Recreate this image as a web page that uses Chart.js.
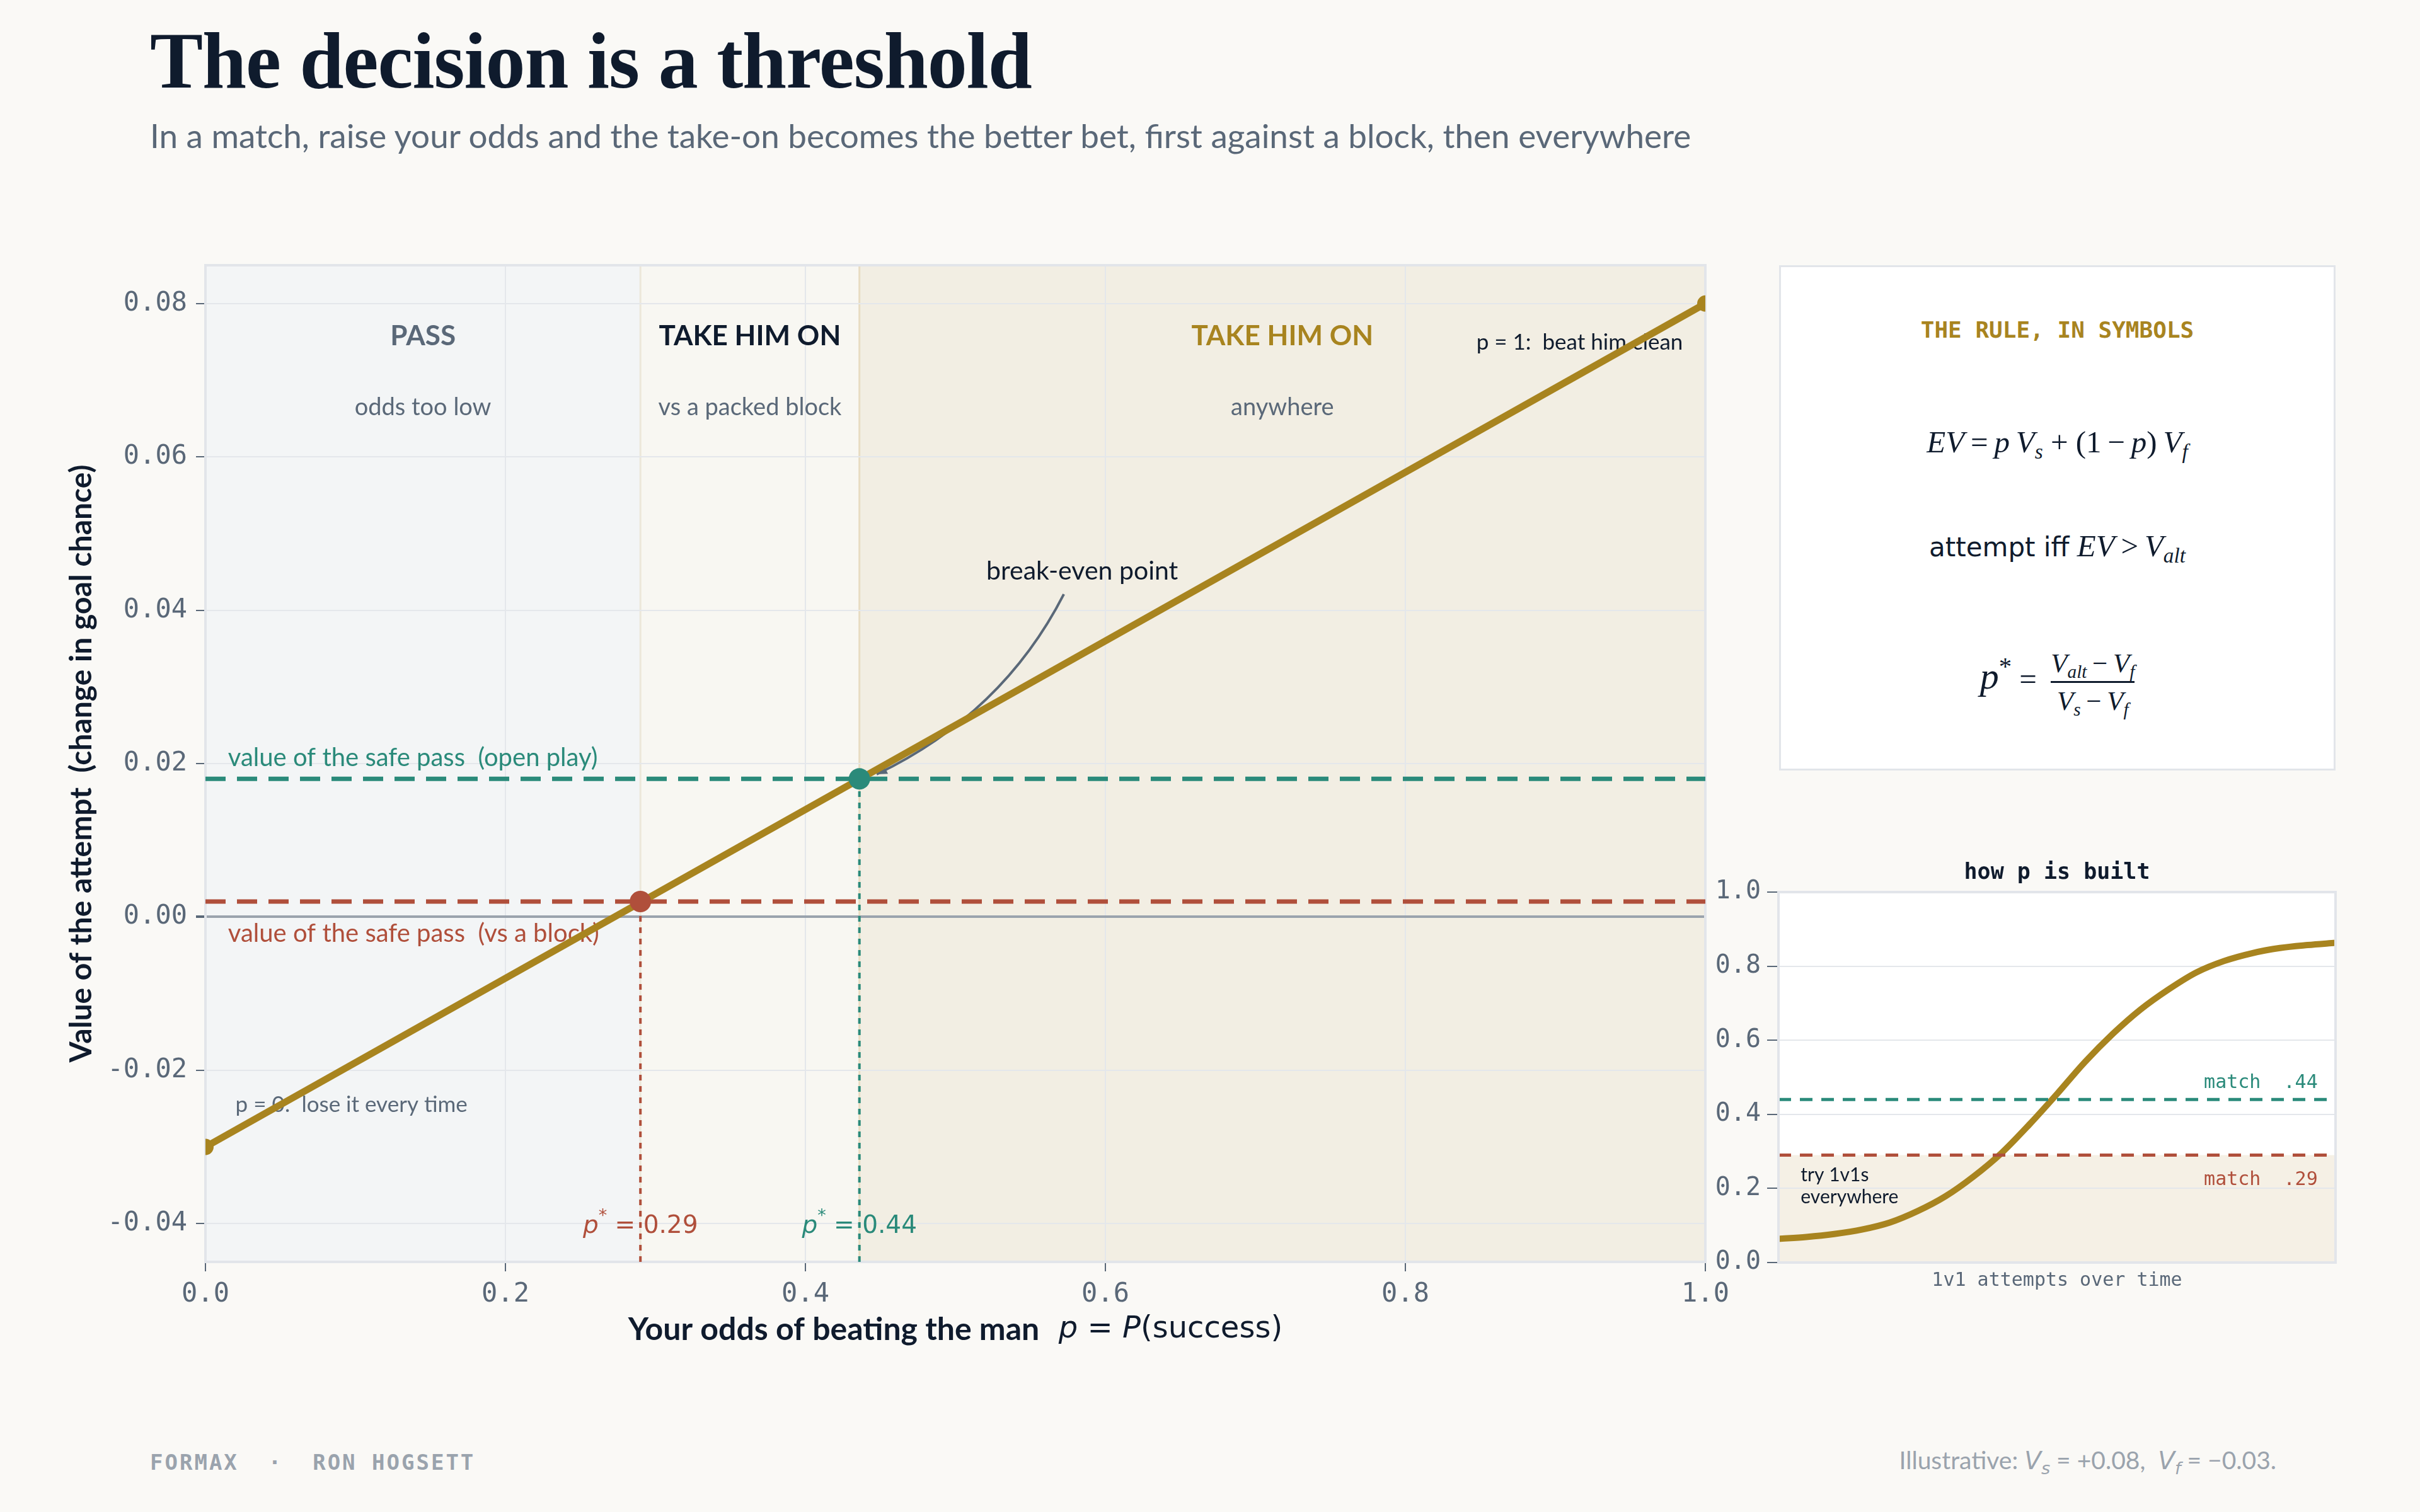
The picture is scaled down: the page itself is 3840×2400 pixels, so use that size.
<!DOCTYPE html>
<html lang="en">
<head>
<meta charset="UTF-8">
<title>The decision is a threshold</title>
<script src="https://cdn.jsdelivr.net/npm/chart.js"></script>
<style>
  html, body { margin: 0; padding: 0; background: #faf9f6; }
  body { width: 3840px; height: 2400px; position: relative; overflow: hidden; font-family: Lato, sans-serif; }
  .abs { position: absolute; white-space: nowrap; }
  #title { left: 238px; top: 34px; font-family: 'Liberation Serif', serif; font-weight: bold; font-size: 126px; line-height: 126px; color: #0f1b2d; letter-spacing: -1px; }
  #subtitle { left: 238px; top: 188px; font-size: 53px; line-height: 53px; color: #5a6878; }
  #mainWrap { left: 60px; top: 380px; width: 2700px; height: 1820px; }
  #insetWrap { left: 2680px; top: 1340px; width: 1080px; height: 760px; }
  #rule { left: 2823px; top: 421px; width: 877px; height: 796px; background: #fff; border: 3px solid #e2e5ea; }
  #rule .row { position: absolute; left: 0; width: 100%; height: 100px; display: flex; align-items: center; justify-content: center; color: #0f1b2d; }
  #rule .head { top: 49px; font-family: 'DejaVu Sans Mono', monospace; font-weight: bold; font-size: 36px; color: #a8841f; }
  .math { font-family: 'Liberation Serif', serif; font-size: 49px; }
  .math i { font-style: italic; }
  .math sub, .math sup { font-size: 0.68em; line-height: 0; }
  .math sub { vertical-align: -0.3em; }
  .math sup { vertical-align: 0.55em; }
  .sans { font-family: 'DejaVu Sans', sans-serif; font-size: 42px; }
  #rule .m1 { top: 227px; }
  #rule .m2 { top: 392px; }
  #rule .m3 { top: 608px; }
  .frac { display: inline-flex; flex-direction: column; align-items: center; font-size: 43px; margin-left: 10px; vertical-align: middle; }
  .frac .bar { height: 3px; width: 100%; background: #0f1b2d; margin: 4px 0; }
  #footL { left: 238px; top: 2304px; font-family: 'DejaVu Sans Mono', monospace; font-weight: bold; font-size: 34px; line-height: 34px; letter-spacing: 3px; color: #9aa3ad; white-space: pre; }
  #footR { right: 228px; top: 2298px; font-size: 39px; line-height: 39px; color: #9aa3ad; }
  #footR .mv { font-family: 'DejaVu Sans', sans-serif; font-style: italic; }
  #footR sub { font-size: 0.7em; line-height: 0; vertical-align: -0.3em; }
</style>
</head>
<body>
  <div id="title" class="abs">The decision is a threshold</div>
  <div id="subtitle" class="abs">In a match, raise your odds and the take-on becomes the better bet, first against a block, then everywhere</div>

  <div id="mainWrap" class="abs"><canvas id="main" width="2700" height="1820"></canvas></div>

  <div id="rule" class="abs">
    <div class="row head">THE RULE, IN SYMBOLS</div>
    <div class="row m1"><span class="math"><i>EV</i>&thinsp;=&thinsp;<i>p</i>&thinsp;<i>V</i><sub><i>s</i></sub>&nbsp;+&nbsp;(1&thinsp;−&thinsp;<i>p</i>)&thinsp;<i>V</i><sub><i>f</i></sub></span></div>
    <div class="row m2"><span><span class="sans">attempt iff</span>&nbsp;&nbsp;&nbsp;<span class="math"><i>EV</i>&thinsp;&gt;&thinsp;<i>V</i><sub><i>alt</i></sub></span></span></div>
    <div class="row m3"><span class="math"><span style="font-size:60px"><i>p</i><sup>*</sup></span>&nbsp;=&nbsp;<span class="frac"><span><i>V</i><sub><i>alt</i></sub>&thinsp;−&thinsp;<i>V</i><sub><i>f</i></sub></span><span class="bar"></span><span><i>V</i><sub><i>s</i></sub>&thinsp;−&thinsp;<i>V</i><sub><i>f</i></sub></span></span></span></div>
  </div>

  <div id="insetWrap" class="abs"><canvas id="inset" width="1080" height="760"></canvas></div>

  <div id="footL" class="abs">FORMAX  ·  RON HOGSETT</div>
  <div id="footR" class="abs">Illustrative: <span class="mv">V<sub>s</sub></span> = +0.08,&nbsp; <span class="mv">V<sub>f</sub></span> = −0.03.</div>

<script>
// --- main chart data ---
const pEnds = [0, 1];                 // p at the two ends of the EV line
const evEnds = [-0.03, 0.08];         // EV at p = 0 and p = 1
const vAltOpen = 0.018;               // safe pass, open play
const vAltBlock = 0.002;              // safe pass vs a block
const pStarOpen = 0.436;
const pStarBlock = 0.29;
const xTicks = [0, 0.2, 0.4, 0.6, 0.8, 1.0];
const yTicks = [-0.04, -0.02, 0, 0.02, 0.04, 0.06, 0.08];
const regionEdges = [0, pStarBlock, pStarOpen, 1];
const regionNames = ['PASS', 'TAKE HIM ON', 'TAKE HIM ON'];
const regionNotes = ['odds too low', 'vs a packed block', 'anywhere'];

// --- inset data (how p is built) ---
const buildT = [0, 0.05, 0.1, 0.15, 0.2, 0.25, 0.3, 0.35, 0.4, 0.45, 0.5, 0.55, 0.6, 0.65, 0.7, 0.75, 0.8, 0.85, 0.9, 0.95, 1.0];
const buildP = [0.064, 0.069, 0.077, 0.089, 0.108, 0.139, 0.179, 0.232, 0.295, 0.372, 0.455, 0.541, 0.617, 0.683, 0.737, 0.783, 0.814, 0.835, 0.849, 0.857, 0.863];
const matchOpen = 0.44;
const matchBlock = 0.29;
const insetTicks = [0, 0.2, 0.4, 0.6, 0.8, 1.0];

const GOLD = '#a8841f', TEAL = '#2a8a7a', RED = '#b04f3b';
const NAVY = '#0f1b2d', SLATE = '#5a6878', GRID = '#e4e7eb', FRAME = '#e2e5ea';
const regionFills = ['#f3f5f6', '#f8f7f2', '#f2eee3'];
const regionColors = [SLATE, NAVY, GOLD];

// draw a row of text pieces with different fonts
function runText(ctx, runs, x, y, align) {
  let w = 0;
  runs.forEach(r => { ctx.font = r.font; r.w = ctx.measureText(r.t).width; w += r.w; });
  let cx = align === 'center' ? x - w / 2 : (align === 'right' ? x - w : x);
  ctx.textAlign = 'left';
  runs.forEach(r => {
    ctx.font = r.font;
    ctx.fillStyle = r.color;
    ctx.fillText(r.t, cx, y + (r.dy || 0));
    cx += r.w;
  });
}

const regionBands = {
  id: 'regionBands',
  beforeDraw(chart) {
    const { ctx, chartArea: a, scales: { x } } = chart;
    ctx.save();
    for (let i = 0; i < regionFills.length; i++) {
      const x0 = x.getPixelForValue(regionEdges[i]);
      const x1 = x.getPixelForValue(regionEdges[i + 1]);
      ctx.fillStyle = regionFills[i];
      ctx.fillRect(x0, a.top, x1 - x0, a.bottom - a.top);
    }
    ctx.lineWidth = 3;
    ctx.strokeStyle = '#ece7da';
    let bx = x.getPixelForValue(pStarBlock);
    ctx.beginPath(); ctx.moveTo(bx, a.top); ctx.lineTo(bx, a.bottom); ctx.stroke();
    ctx.strokeStyle = '#e8dcc2';
    bx = x.getPixelForValue(pStarOpen);
    ctx.beginPath(); ctx.moveTo(bx, a.top); ctx.lineTo(bx, a.bottom); ctx.stroke();
    ctx.restore();
  }
};

const mainNotes = {
  id: 'mainNotes',
  beforeDatasetsDraw(chart) {
    const { ctx, chartArea: a, scales: { x, y } } = chart;
    ctx.save();
    ctx.strokeStyle = FRAME;
    ctx.lineWidth = 4;
    ctx.strokeRect(a.left, a.top, a.right - a.left, a.bottom - a.top);

    ctx.textBaseline = 'middle';
    ctx.textAlign = 'center';
    regionNames.forEach((name, i) => {
      const cx = x.getPixelForValue((regionEdges[i] + regionEdges[i + 1]) / 2);
      ctx.font = 'bold 44px Lato';
      ctx.fillStyle = regionColors[i];
      ctx.fillText(name, cx, a.top + 113);
      ctx.font = '38px Lato';
      ctx.fillStyle = SLATE;
      ctx.fillText(regionNotes[i], cx, a.top + 226);
    });

    ctx.textAlign = 'left';
    ctx.font = '40px Lato';
    ctx.fillStyle = TEAL;
    ctx.fillText('value of the safe pass  (open play)', x.getPixelForValue(0.015), y.getPixelForValue(vAltOpen) - 33);
    ctx.fillStyle = RED;
    ctx.fillText('value of the safe pass  (vs a block)', x.getPixelForValue(0.015), y.getPixelForValue(vAltBlock) + 51);

    ctx.font = '35px Lato';
    ctx.fillStyle = SLATE;
    ctx.fillText('p = 0:  lose it every time', x.getPixelForValue(0.02), y.getPixelForValue(-0.0245));
    ctx.textAlign = 'right';
    ctx.fillStyle = NAVY;
    ctx.fillText('p = 1:  beat him clean', x.getPixelForValue(0.985), y.getPixelForValue(0.0749));

    ctx.textAlign = 'center';
    ctx.font = '41px Lato';
    ctx.fillText('break-even point', x.getPixelForValue(0.5845), y.getPixelForValue(0.0451));

    // curved pointer to the break-even point
    const sx = x.getPixelForValue(0.5723), sy = y.getPixelForValue(0.0421);
    const qx = x.getPixelForValue(0.5315), qy = y.getPixelForValue(0.0265);
    const ex = x.getPixelForValue(0.4475), ey = y.getPixelForValue(0.0186);
    ctx.strokeStyle = SLATE;
    ctx.lineWidth = 4;
    ctx.beginPath(); ctx.moveTo(sx, sy); ctx.quadraticCurveTo(qx, qy, ex, ey); ctx.stroke();
    const ang = Math.atan2(ey - qy, ex - qx);
    ctx.fillStyle = SLATE;
    ctx.beginPath();
    ctx.moveTo(ex, ey);
    ctx.lineTo(ex - 18 * Math.cos(ang - 0.4), ey - 18 * Math.sin(ang - 0.4));
    ctx.lineTo(ex - 18 * Math.cos(ang + 0.4), ey - 18 * Math.sin(ang + 0.4));
    ctx.closePath(); ctx.fill();

    // p* labels
    const ly = y.getPixelForValue(-0.0404);
    [[pStarBlock, '0.29', RED], [pStarOpen, '0.44', TEAL]].forEach(([p, t, c]) => {
      runText(ctx, [
        { t: 'p', font: 'italic 39px "DejaVu Sans"', color: c },
        { t: '*', font: '27px "DejaVu Sans"', color: c, dy: -16 },
        { t: ' = ' + t, font: '39px "DejaVu Sans"', color: c }
      ], x.getPixelForValue(p), ly, 'center');
    });

    // axis titles
    runText(ctx, [
      { t: 'Your odds of beating the man', font: 'bold 50px Lato', color: NAVY },
      { t: '  ', font: '48px "DejaVu Sans"', color: NAVY },
      { t: 'p', font: 'italic 48px "DejaVu Sans"', color: NAVY },
      { t: ' = ', font: '48px "DejaVu Sans"', color: NAVY },
      { t: 'P', font: 'italic 48px "DejaVu Sans"', color: NAVY },
      { t: '(success)', font: '48px "DejaVu Sans"', color: NAVY }
    ], (a.left + a.right) / 2, 1731, 'center');

    ctx.translate(70, (a.top + a.bottom) / 2);
    ctx.rotate(-Math.PI / 2);
    ctx.textAlign = 'center';
    ctx.font = 'bold 48px Lato';
    ctx.fillStyle = NAVY;
    ctx.fillText('Value of the attempt  (change in goal chance)', 0, 0);
    ctx.restore();
  }
};

const axisFont = { family: 'DejaVu Sans Mono', size: 42 };

new Chart(document.getElementById('main'), {
  type: 'line',
  data: {
    datasets: [
      { label: 'p* block', data: [{ x: pStarBlock, y: vAltBlock }], showLine: false, pointRadius: 17, pointBackgroundColor: RED, pointBorderWidth: 0 },
      { label: 'p* open', data: [{ x: pStarOpen, y: vAltOpen }], showLine: false, pointRadius: 17, pointBackgroundColor: TEAL, pointBorderWidth: 0 },
      { label: 'EV', data: pEnds.map((p, i) => ({ x: p, y: evEnds[i] })), borderColor: GOLD, borderWidth: 11, pointRadius: 13, pointBackgroundColor: GOLD, pointBorderWidth: 0, clip: 0 },
      { label: 'safe pass open', data: pEnds.map(p => ({ x: p, y: vAltOpen })), borderColor: TEAL, borderWidth: 7, borderDash: [32, 18], pointRadius: 0 },
      { label: 'safe pass block', data: pEnds.map(p => ({ x: p, y: vAltBlock })), borderColor: RED, borderWidth: 7, borderDash: [32, 18], pointRadius: 0 },
      { label: 'drop block', data: [{ x: pStarBlock, y: -0.045 }, { x: pStarBlock, y: vAltBlock }], borderColor: RED, borderWidth: 4, borderDash: [9, 9], pointRadius: 0 },
      { label: 'drop open', data: [{ x: pStarOpen, y: -0.045 }, { x: pStarOpen, y: vAltOpen }], borderColor: TEAL, borderWidth: 4, borderDash: [9, 9], pointRadius: 0 }
    ]
  },
  options: {
    responsive: false,
    animation: false,
    devicePixelRatio: 1,
    layout: { padding: { top: 41, right: 54, left: 0, bottom: 0 } },
    plugins: { legend: { display: false }, tooltip: { enabled: false } },
    scales: {
      x: {
        type: 'linear', min: 0, max: 1,
        afterFit: s => { s.height = 197; },
        afterBuildTicks: s => { s.ticks = xTicks.map(v => ({ value: v })); },
        ticks: { font: axisFont, color: SLATE, padding: 12, maxRotation: 0, callback: v => Number(v).toFixed(1) },
        grid: { color: GRID, lineWidth: 2, tickColor: SLATE, tickLength: 15 },
        border: { display: false }
      },
      y: {
        type: 'linear', min: -0.045, max: 0.085,
        afterFit: s => { s.width = 266; },
        afterBuildTicks: s => { s.ticks = yTicks.map(v => ({ value: v })); },
        ticks: { font: axisFont, color: SLATE, padding: 14, callback: v => Number(v).toFixed(2) },
        grid: {
          color: c => (c.tick && Math.abs(c.tick.value) < 1e-9 ? '#9aa3ad' : GRID),
          lineWidth: c => (c.tick && Math.abs(c.tick.value) < 1e-9 ? 4 : 2),
          tickColor: SLATE, tickLength: 15
        },
        border: { display: false }
      }
    }
  },
  plugins: [regionBands, mainNotes]
});

// --- inset ---
const insetBack = {
  id: 'insetBack',
  beforeDraw(chart) {
    const { ctx, chartArea: a, scales: { y } } = chart;
    ctx.save();
    ctx.fillStyle = '#ffffff';
    ctx.fillRect(a.left, a.top, a.right - a.left, a.bottom - a.top);
    const yb = y.getPixelForValue(matchBlock);
    ctx.fillStyle = '#f5f0e5';
    ctx.fillRect(a.left, yb, a.right - a.left, a.bottom - yb);
    ctx.restore();
  },
  afterDatasetsDraw(chart) {
    const { ctx, chartArea: a, scales: { x, y } } = chart;
    ctx.save();
    ctx.strokeStyle = FRAME;
    ctx.lineWidth = 4;
    ctx.strokeRect(a.left, a.top, a.right - a.left, a.bottom - a.top);
    ctx.textBaseline = 'middle';
    ctx.textAlign = 'center';
    ctx.font = 'bold 35px "DejaVu Sans Mono"';
    ctx.fillStyle = NAVY;
    ctx.fillText('how p is built', (a.left + a.right) / 2, 46);
    ctx.font = '30px "DejaVu Sans Mono"';
    ctx.fillStyle = SLATE;
    ctx.fillText('1v1 attempts over time', (a.left + a.right) / 2, 693);
    ctx.textAlign = 'right';
    ctx.fillStyle = TEAL;
    ctx.fillText('match  .44', x.getPixelForValue(0.968), y.getPixelForValue(0.485));
    ctx.fillStyle = RED;
    ctx.fillText('match  .29', x.getPixelForValue(0.968), y.getPixelForValue(0.223));
    ctx.textAlign = 'left';
    ctx.font = '30px Lato';
    ctx.fillStyle = NAVY;
    ctx.fillText('try 1v1s', x.getPixelForValue(0.04), y.getPixelForValue(0.235));
    ctx.fillText('everywhere', x.getPixelForValue(0.04), y.getPixelForValue(0.177));
    ctx.restore();
  }
};

new Chart(document.getElementById('inset'), {
  type: 'line',
  data: {
    datasets: [
      { label: 'match open', data: [{ x: 0, y: matchOpen }, { x: 1, y: matchOpen }], borderColor: TEAL, borderWidth: 5, borderDash: [20, 14], pointRadius: 0 },
      { label: 'match block', data: [{ x: 0, y: matchBlock }, { x: 1, y: matchBlock }], borderColor: RED, borderWidth: 5, borderDash: [20, 14], pointRadius: 0 },
      { label: 'p over time', data: buildT.map((t, i) => ({ x: t, y: buildP[i] })), borderColor: GOLD, borderWidth: 10, pointRadius: 0, cubicInterpolationMode: 'monotone' }
    ]
  },
  options: {
    responsive: false,
    animation: false,
    devicePixelRatio: 1,
    layout: { padding: { top: 76, right: 54, left: 0, bottom: 0 } },
    plugins: { legend: { display: false }, tooltip: { enabled: false } },
    scales: {
      x: {
        type: 'linear', min: 0, max: 1,
        afterFit: s => { s.height = 96; },
        ticks: { display: false },
        grid: { display: false },
        border: { display: false }
      },
      y: {
        type: 'linear', min: 0, max: 1,
        afterFit: s => { s.width = 142; },
        afterBuildTicks: s => { s.ticks = insetTicks.map(v => ({ value: v })); },
        ticks: { font: { family: 'DejaVu Sans Mono', size: 40 }, color: SLATE, padding: 10, callback: v => Number(v).toFixed(1) },
        grid: { color: GRID, lineWidth: 2, tickColor: SLATE, tickLength: 18 },
        border: { display: false }
      }
    }
  },
  plugins: [insetBack]
});
</script>
</body>
</html>
